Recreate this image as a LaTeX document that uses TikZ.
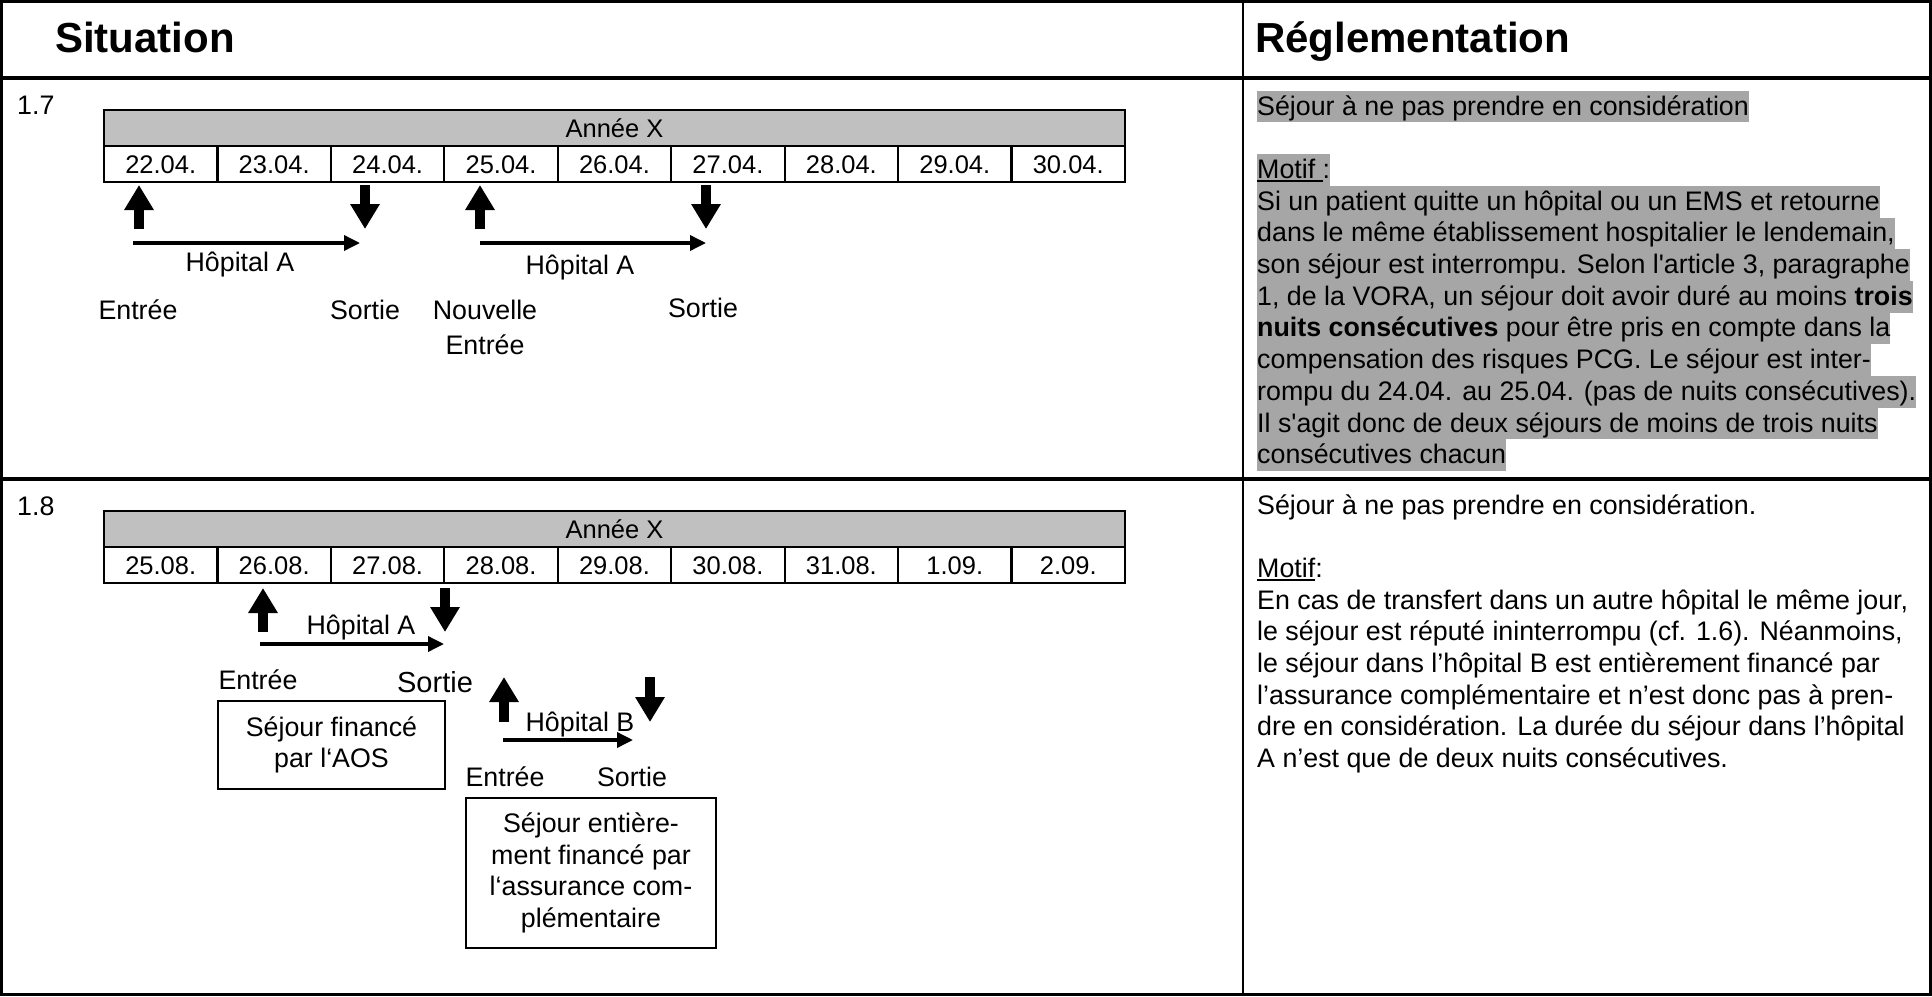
\documentclass[tikz,border=0pt]{standalone}
\usepackage{fontspec}
\newfontfamily\arialf{Liberation Sans}
\usetikzlibrary{arrows.meta}
\definecolor{hlgray}{HTML}{A6A6A6}
\definecolor{tabgray}{HTML}{C0C0C0}
\newcommand\bodyf{\arialf\fontsize{26.8}{31.7}\selectfont}
\newcommand\tabf{\arialf\fontsize{25.5}{30}\selectfont}
\newcommand\headf{\arialf\bfseries\fontsize{42}{48}\selectfont}
\newcommand\bigf{\arialf\fontsize{29}{34}\selectfont}
\newcommand\ulin[1]{\setbox0\hbox{#1}\rlap{\rule[-3.5pt]{\wd0}{2pt}}\box0}
\begin{document}
\begin{tikzpicture}[x=1pt,y=-1pt,
  txt/.style={anchor=base west,inner sep=0pt,font=\bodyf},
  hl/.style={txt,fill=hlgray,text height=24.3pt,text depth=7.4pt},
  lbl/.style={anchor=base,inner sep=0pt,font=\bodyf},
  headtxt/.style={anchor=base west,inner sep=0pt,font=\headf},
  datecell/.style={draw,line width=2.2pt,inner sep=0pt,minimum width=113.44pt,minimum height=36pt,text height=18.3pt,text depth=0pt,font=\tabf},
  yearcell/.style={datecell,fill=tabgray,minimum width=1020.96pt},
  blockarr/.style={line width=10pt,-{Triangle[length=25pt,width=28pt]}},
  thinarr/.style={line width=3.5pt,-{Triangle[length=16pt,width=15pt]}},
  infobox/.style={draw,line width=2.5pt,inner sep=0pt,align=center,font=\bodyf}
]
\useasboundingbox (0,0) rectangle (1932,996);
% table frame
\draw[line width=3.2pt] (1.6,1.6) rectangle (1930.4,994.4);
\draw[line width=4pt] (0,78) -- (1932,78);
\draw[line width=3.2pt] (0,479) -- (1932,479);
\draw[line width=2.6pt] (1243,0) -- (1243,996);
% headers
\node[headtxt] (hsit) at (55,52) {Situation};
\node[headtxt] (hreg) at (1255,52) {Réglementation};
% row labels
\node[txt] (l17) at (17,114) {1.7};
\node[txt] (l18) at (17,515) {1.8};

% ---------- 1.7 timeline ----------
\node[yearcell] (ya) at (614.48,128) {Année X};
\foreach \d [count=\i from 0] in {22.04.,23.04.,24.04.,25.04.,26.04.,27.04.,28.04.,29.04.,30.04.}
  \node[datecell] (da\i) at ({104+113.44*(\i+0.5)},164) {\d};
\coordinate (a1t) at (139,185); \coordinate (a1b) at (139,229);
\coordinate (a2t) at (365,185); \coordinate (a2b) at (365,229);
\coordinate (a3t) at (480,185); \coordinate (a3b) at (480,229);
\coordinate (a4t) at (706,185); \coordinate (a4b) at (706,229);
\draw[blockarr] (a1b) -- (a1t);
\draw[blockarr] (a2t) -- (a2b);
\draw[blockarr] (a3b) -- (a3t);
\draw[blockarr] (a4t) -- (a4b);
\coordinate (h1s) at (133,243); \coordinate (h1e) at (360,243);
\coordinate (h2s) at (480,243); \coordinate (h2e) at (706,243);
\draw[thinarr] (h1s) -- (h1e);
\draw[thinarr] (h2s) -- (h2e);
\node[lbl] (hA1) at (240,271) {Hôpital A};
\node[lbl] (hA2) at (580,274.5) {Hôpital A};
\node[lbl] (en1) at (138,319.5) {Entrée};
\node[lbl] (so1) at (365,319.5) {Sortie};
\node[lbl] (nou) at (485,319.5) {Nouvelle};
\node[lbl] (en2) at (485,354.5) {Entrée};
\node[lbl] (so2) at (703,317.5) {Sortie};

% ---------- 1.8 timeline ----------
\node[yearcell] (yb) at (614.48,529) {Année X};
\foreach \d [count=\i from 0] in {25.08.,26.08.,27.08.,28.08.,29.08.,30.08.,31.08.,1.09.,2.09.}
  \node[datecell] (db\i) at ({104+113.44*(\i+0.5)},565) {\d};
\coordinate (b1t) at (263,588); \coordinate (b1b) at (263,632);
\coordinate (b2t) at (445,588); \coordinate (b2b) at (445,632);
\coordinate (b3t) at (504,677); \coordinate (b3b) at (504,722);
\coordinate (b4t) at (650,677); \coordinate (b4b) at (650,722);
\draw[blockarr] (b1b) -- (b1t);
\draw[blockarr] (b2t) -- (b2b);
\draw[blockarr] (b3b) -- (b3t);
\draw[blockarr] (b4t) -- (b4b);
\coordinate (g1s) at (260,644); \coordinate (g1e) at (444,644);
\coordinate (g2s) at (503,740); \coordinate (g2e) at (633,740);
\draw[thinarr] (g1s) -- (g1e);
\draw[thinarr] (g2s) -- (g2e);
\node[lbl] (hAb) at (361,634.5) {Hôpital A};
\node[lbl] (enb1) at (258,689.5) {Entrée};
\node[lbl,font=\bigf] (sob1) at (435,692) {Sortie};
\node[infobox,minimum width=227pt,minimum height=88pt] (boxA) at (331.5,745) {Séjour financé\\par l‘AOS};
\node[lbl] (hBb) at (580,731.5) {Hôpital B};
\node[lbl] (enb2) at (505,786.5) {Entrée};
\node[lbl] (sob2) at (632,786.5) {Sortie};
\node[infobox,minimum width=250pt,minimum height=150pt] (boxB) at (591,873) {Séjour entière-\\ment financé par\\l‘assurance com-\\plémentaire};

% ---------- 1.7 text ----------
\node[hl] (r1) at (1257,115) {Séjour à ne pas prendre en considération};
\node[hl] (r3) at (1257,178.4) {\ulin{Motif\ }:};
\node[hl] (r4) at (1257,210.1) {Si un patient quitte un hôpital ou un EMS et retourne};
\node[hl] (r5) at (1257,241.8) {dans le même établissement hospitalier le lendemain,};
\node[hl] (r6) at (1257,273.5) {son séjour est interrompu. Selon l'article 3, paragraphe};
\node[hl] (r7) at (1257,305.2) {1, de la VORA, un séjour doit avoir duré au moins {\bfseries trois}};
\node[hl] (r8) at (1257,336.9) {{\bfseries nuits consécutives} pour être pris en compte dans la};
\node[hl] (r9) at (1257,368.6) {compensation des risques PCG. Le séjour est inter-};
\node[hl] (r10) at (1257,400.3) {rompu du 24.04. au 25.04. (pas de nuits consécutives).};
\node[hl] (r11) at (1257,432) {Il s'agit donc de deux séjours de moins de trois nuits};
\node[hl] (r12) at (1257,463.7) {consécutives chacun};

% ---------- 1.8 text ----------
\node[txt] (s1) at (1257,514) {Séjour à ne pas prendre en considération.};
\node[txt] (s3) at (1257,577.4) {\ulin{Motif}:};
\node[txt] (s4) at (1257,609.1) {En cas de transfert dans un autre hôpital le même jour,};
\node[txt] (s5) at (1257,640.8) {le séjour est réputé ininterrompu (cf. 1.6). Néanmoins,};
\node[txt] (s6) at (1257,672.5) {le séjour dans l’hôpital B est entièrement financé par};
\node[txt] (s7) at (1257,704.2) {l’assurance complémentaire et n’est donc pas à pren-};
\node[txt] (s8) at (1257,735.9) {dre en considération. La durée du séjour dans l’hôpital};
\node[txt] (s9) at (1257,767.6) {A n’est que de deux nuits consécutives.};
\end{tikzpicture}
\end{document}
